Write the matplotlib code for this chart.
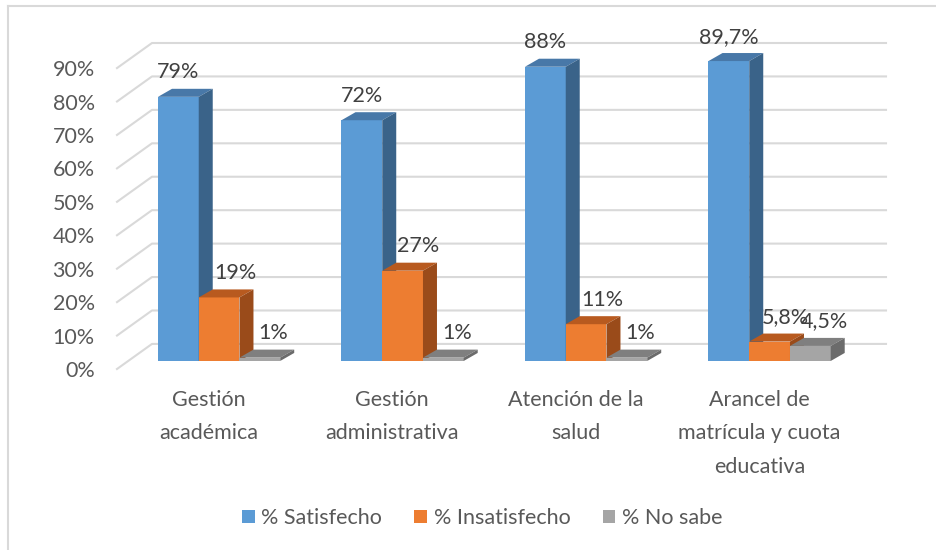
import matplotlib.pyplot as plt
from matplotlib.patches import Polygon, Patch
from matplotlib.lines import Line2D

plt.rcParams['font.family'] = ['Lato', 'DejaVu Sans']

categories = ['Gestión\nacadémica', 'Gestión\nadministrativa',
              'Atención de la\nsalud', 'Arancel de\nmatrícula y cuota\neducativa']
series = ['% Satisfecho', '% Insatisfecho', '% No sabe']
satisfecho = [79, 72, 88, 89.7]
insatisfecho = [19, 27, 11, 5.8]
no_sabe = [1, 1, 1, 4.5]
values = [satisfecho, insatisfecho, no_sabe]

front = ['#5B9BD5', '#ED7D31', '#A5A5A5']
top = ['#4878a8', '#b85a1f', '#7f7f7f']
side = ['#3a6389', '#9a4b1a', '#6b6b6b']

# fake 3d: offset of the back wall and of each bar's depth (data units)
wall_dx, wall_dy = 0.1907, 7.5
bar_dx, bar_dy = 0.0763, 2.4
base = 2.4
bar_w = 0.222
first_left = -0.2766
label_dx = [0, 0.087, 0.075]
fs = 15.5

fig = plt.figure(figsize=(9.36, 5.5), dpi=100)
ax = fig.add_axes([117/936, (550-369)/550, (886-117)/936, (369-43)/550])
ax.set_xlim(-0.5, 3.5 + wall_dx)
ax.set_ylim(0, 90 + wall_dy)

grid_c = '#d9d9d9'
for v in range(0, 100, 10):
    ax.plot([-0.5, -0.5 + wall_dx, 3.5 + wall_dx], [v, v + wall_dy, v + wall_dy],
            color=grid_c, lw=1.5, zorder=1, clip_on=False)

def fmt(v):
    if float(v).is_integer():
        return f'{v:.0f}%'
    return f'{v:.1f}'.replace('.', ',') + '%'

for i in range(len(categories)):
    for s in range(len(series)):
        v = values[s][i]
        x = i + first_left + s * bar_w
        ax.bar(x, v, width=bar_w, bottom=base, align='edge', color=front[s],
               zorder=3 + s, linewidth=0)
        h = base + v
        ax.add_patch(Polygon([(x, h), (x + bar_w, h), (x + bar_w + bar_dx, h + bar_dy),
                              (x + bar_dx, h + bar_dy)], closed=True,
                             facecolor=top[s], lw=0, zorder=3 + s))
        ax.add_patch(Polygon([(x + bar_w, base), (x + bar_w + bar_dx, base + bar_dy),
                              (x + bar_w + bar_dx, h + bar_dy), (x + bar_w, h)], closed=True,
                             facecolor=side[s], lw=0, zorder=3 + s))
        ax.text(x + bar_w / 2 + label_dx[s], h + 7.3, fmt(v), ha='center', va='center',
                fontsize=fs, color='#404040', zorder=10)

for sp in ax.spines.values():
    sp.set_visible(False)
ax.set_yticks(range(0, 100, 10))
ax.set_yticklabels([f'{v}%' for v in range(0, 100, 10)])
ax.tick_params(axis='y', length=0, pad=16, labelsize=fs, labelcolor='#595959')
ax.set_xticks(range(len(categories)))
ax.set_xticklabels(categories)
ax.tick_params(axis='x', length=0, pad=15, labelsize=fs, labelcolor='#595959')
for lbl in ax.get_xticklabels():
    lbl.set_linespacing(1.85)

handles = [Patch(facecolor=c, label=n) for c, n in zip(front, series)]
leg = fig.legend(handles=handles, loc='center', bbox_to_anchor=(482/936, 1 - 518/550),
                 ncol=3, frameon=False, fontsize=fs, handlelength=0.6, handleheight=0.6,
                 handletextpad=0.3, columnspacing=1.5)
for t in leg.get_texts():
    t.set_color('#595959')

fig.add_artist(Line2D([8/936, 1], [1 - 6/550, 1 - 6/550], color=grid_c, lw=1.5))
fig.add_artist(Line2D([8/936, 8/936], [0, 1 - 6/550], color=grid_c, lw=1.5))

fig.savefig('out.png', dpi=100)
